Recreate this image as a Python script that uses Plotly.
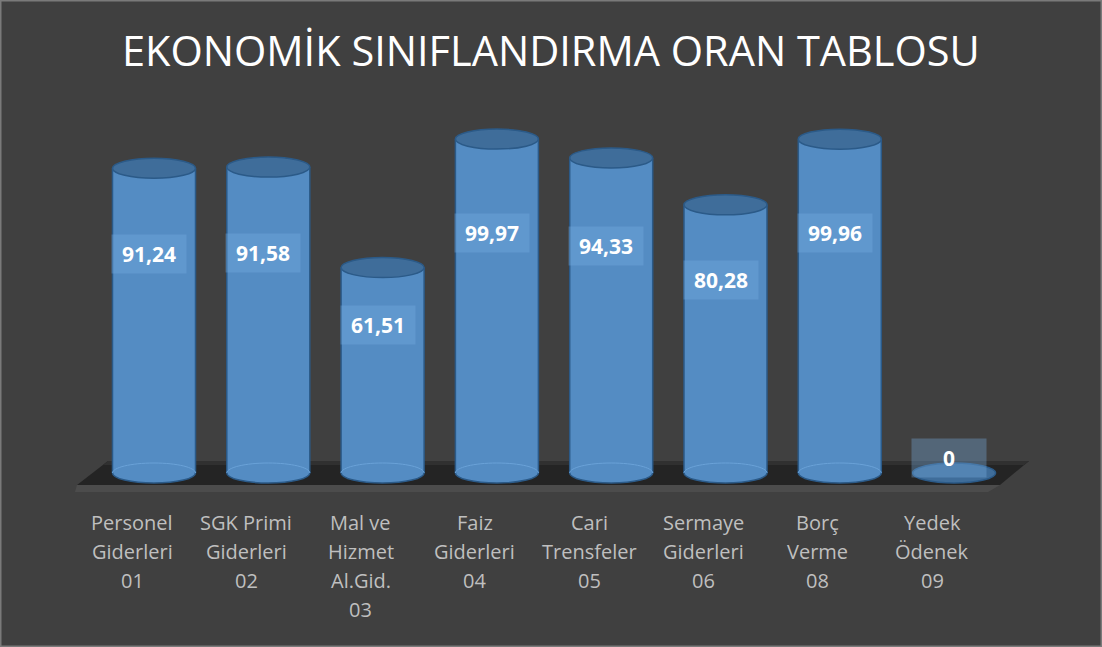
import plotly.graph_objects as go
import numpy as np

# ---------------- data ----------------
categories = [
    "Personel\nGiderleri\n01",
    "SGK Primi\nGiderleri\n02",
    "Mal ve\nHizmet\nAl.Gid.\n03",
    "Faiz\nGiderleri\n04",
    "Cari\nTrensfeler\n05",
    "Sermaye\nGiderleri\n06",
    "Borç\nVerme\n08",
    "Yedek\nÖdenek\n09",
]
values = [91.24, 91.58, 61.51, 99.97, 94.33, 80.28, 99.96, 0]
value_labels = ["91,24", "91,58", "61,51", "99,97", "94,33", "80,28", "99,96", "0"]
title_text = "EKONOMİK SINIFLANDIRMA ORAN TABLOSU"

# ---------------- layout geometry ----------------
W, H = 1102, 647
BG = "#404040"
BODY = "#548cc3"
TOP = "#3f6d9a"
EDGE = "#2b5a88"

px_per_cat = 114.3
x0 = -154 / px_per_cat
x1 = x0 + W / px_per_cat
px_per_unit = 3.34
zero_px = 473
y1 = zero_px / px_per_unit
y0 = (zero_px - H) / px_per_unit

def dx(px):
    return x0 + px / px_per_cat

def dy(py):
    return (zero_px - py) / px_per_unit

half_w = 41.5 / px_per_cat       # cylinder radius in x units
half_h = 10 / px_per_unit        # ellipse semi-minor in y units
xs = list(range(len(values)))

fig = go.Figure()

shapes = []
# floor (dark parallelogram + front face)
floor = [(108, 461), (1029, 461), (1000, 485), (77, 485)]
shapes.append(dict(type="path", xref="x", yref="y", layer="below",
                   path="M " + " L ".join(f"{dx(a)},{dy(b)}" for a, b in floor) + " Z",
                   fillcolor="#242424", line=dict(width=0)))
face = [(77, 485), (1000, 485), (988, 492), (75, 492)]
shapes.append(dict(type="path", xref="x", yref="y", layer="below",
                   path="M " + " L ".join(f"{dx(a)},{dy(b)}" for a, b in face) + " Z",
                   fillcolor="#4c4c4c", line=dict(width=0)))
back = [(108, 461), (1029, 461), (1024, 465), (103, 465)]
shapes.append(dict(type="path", xref="x", yref="y", layer="below",
                   path="M " + " L ".join(f"{dx(a)},{dy(b)}" for a, b in back) + " Z",
                   fillcolor="#303030", line=dict(width=0)))

# bottom ellipses (below the bar bodies)
for x, v in zip(xs, values):
    if v > 0:
        shapes.append(dict(type="circle", xref="x", yref="y", layer="below",
                           x0=x - half_w, x1=x + half_w, y0=-half_h, y1=half_h,
                           fillcolor=BODY, line=dict(color=EDGE, width=1.5)))

# bar bodies
fig.add_trace(go.Bar(x=xs, y=values, width=2 * half_w,
                     marker=dict(color=BODY, line=dict(width=0)),
                     hoverinfo="skip", showlegend=False))

k = 0.5523
for x, v in zip(xs, values):
    if v > 0:
        # side edges
        for sx in (x - half_w, x + half_w):
            shapes.append(dict(type="line", xref="x", yref="y",
                               x0=sx, x1=sx, y0=0, y1=v,
                               line=dict(color=EDGE, width=1.5)))
        # faint back arc of the bottom ellipse
        a, b = half_w, half_h
        p = (f"M {x-a},0 C {x-a},{k*b} {x-k*a},{b} {x},{b} "
             f"C {x+k*a},{b} {x+a},{k*b} {x+a},0")
        shapes.append(dict(type="path", xref="x", yref="y", path=p,
                           line=dict(color="#6aa2d8", width=1)))
    # top ellipse
    shapes.append(dict(type="circle", xref="x", yref="y",
                       x0=x - half_w, x1=x + half_w, y0=v - half_h, y1=v + half_h,
                       fillcolor=TOP, line=dict(color=EDGE, width=1.5)))

# outer border
shapes.append(dict(type="rect", xref="paper", yref="paper", x0=0, x1=1, y0=0, y1=1,
                   line=dict(color="#7a7a7a", width=3), fillcolor="rgba(0,0,0,0)"))

annotations = []
# title
annotations.append(dict(text=title_text, xref="paper", yref="paper",
                        x=0.5, y=1 - 50 / H, xanchor="center", yanchor="middle",
                        showarrow=False,
                        font=dict(family="Open Sans", size=41.5, color="#ffffff")))

# data labels
for x, v, t in zip(xs, values, value_labels):
    ly = max(v * 0.72, 4.5)
    annotations.append(dict(text=f"<b>{t}</b>", xref="x", yref="y",
                            x=x - 5 / px_per_cat, y=ly, showarrow=False,
                            xanchor="center", yanchor="middle",
                            width=64, height=28, borderpad=5,
                            bgcolor="rgba(120,175,225,0.35)",
                            font=dict(family="Open Sans", size=21, color="#ffffff")))

# category labels (wrapped lines)
for x, cat in zip(xs, categories):
    for i, line in enumerate(cat.split("\n")):
        annotations.append(dict(text=line, xref="x", yref="paper",
                                x=x - 22 / px_per_cat, y=1 - 522 / H,
                                yshift=-29 * i, showarrow=False,
                                xanchor="center", yanchor="middle",
                                font=dict(family="Open Sans", size=20, color="#bfbfbf")))

fig.update_layout(
    width=W, height=H,
    margin=dict(l=0, r=0, t=0, b=0),
    paper_bgcolor=BG, plot_bgcolor="rgba(0,0,0,0)",
    xaxis=dict(range=[x0, x1], visible=False, fixedrange=True),
    yaxis=dict(range=[y0, y1], visible=False, fixedrange=True),
    shapes=shapes, annotations=annotations,
    bargap=0, showlegend=False,
)

fig.write_html("out.html", config={"displayModeBar": False},
               post_script="document.body.style.margin='0';document.body.style.overflow='hidden';")
